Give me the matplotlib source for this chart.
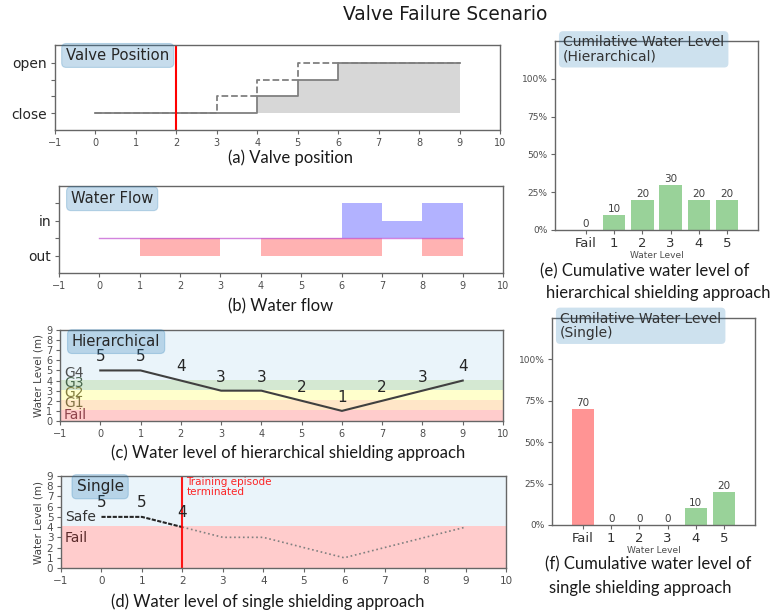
import matplotlib
matplotlib.use("Agg")
import matplotlib.pyplot as plt
import numpy as np

# ---------------- data ----------------
steps = [0, 1, 2, 3, 4, 5, 6, 7, 8, 9]
valve_actual = [0, 0, 0, 0, 1, 2, 3, 3, 3, 3]
valve_intended = [0, 0, 0, 1, 2, 3, 3, 3, 3, 3]
valve_labels = ["close", "", "", "open"]
failure_step = 2

flow_in = [0, 0, 0, 0, 0, 0, 2, 1, 2, 2]
flow_out = [0, 1, 1, 0, 1, 1, 1, 0, 1, 1]

level_hier = [5, 5, 4, 3, 3, 2, 1, 2, 3, 4]
level_single = [5, 5, 4, 3, 3, 2, 1, 2, 3, 4]

categories = ["Fail", "1", "2", "3", "4", "5"]
cum_hier = [0, 10, 20, 30, 20, 20]
cum_single = [70, 0, 0, 0, 10, 20]

# ---------------- style ----------------
plt.rcParams['font.family'] = ['DejaVu Sans']
SPINE = '0.4'
TICKC = '0.3'
BOXKW = dict(boxstyle='round,pad=0.3', facecolor='tab:blue', alpha=0.25, edgecolor='tab:blue', linewidth=0.8)
CAPFONT = ['Lato', 'DejaVu Sans']

fig = plt.figure(figsize=(7.76, 6.14), dpi=100)


def style_axes(ax, xsize=7, ysize=7):
    for s in ax.spines.values():
        s.set_color(SPINE)
        s.set_linewidth(1.0)
    ax.tick_params(axis='x', colors=SPINE, labelcolor=TICKC, labelsize=xsize, length=3, pad=2.5)
    ax.tick_params(axis='y', colors=SPINE, labelcolor=TICKC, labelsize=ysize, length=3, pad=2.5)


def px_axes(l, t, r, b):
    W, H = 776, 614
    return fig.add_axes([l / W, 1 - b / H, (r - l) / W, (b - t) / H])


# ---------- (a) valve position ----------
ax = px_axes(55, 45, 500, 130)
ax.fill_between(steps, 0, valve_actual, step='post', color='lightgray', alpha=0.9, linewidth=0)
ax.step(steps, valve_intended, where='post', color='gray', linestyle='--', linewidth=1.3)
ax.step(steps, valve_actual, where='post', color='gray', linewidth=1.3)
ax.axvline(failure_step, color='red', linewidth=1.5)
ax.set_xlim(-1, 10)
ax.set_ylim(-1, 4.05)
ax.set_xticks(range(-1, 11))
ax.set_yticks([0, 1, 2, 3])
ax.set_yticklabels(valve_labels)
style_axes(ax, xsize=7, ysize=10)
ax.tick_params(axis='y', labelcolor='0.15')
ax.text(0.025, 0.965, "Valve Position", transform=ax.transAxes, fontsize=10.7,
        va='top', ha='left', color='0.15', bbox=BOXKW)

# ---------- (b) water flow ----------
ax = px_axes(59, 186, 503, 273)
ax.fill_between(steps, 0, flow_in, step='post', color='blue', alpha=0.3, linewidth=0)
ax.fill_between(steps, 0, [-v for v in flow_out], step='post', color='red', alpha=0.3, linewidth=0)
ax.plot(steps, [0] * len(steps), color='#c050d0', alpha=0.7, linewidth=1)
ax.set_xlim(-1, 10)
ax.set_ylim(-2, 3)
ax.set_xticks(range(-1, 11))
ax.set_yticks([-1, 0, 1, 2])
ax.set_yticklabels(["out", "", "in", ""])
style_axes(ax, xsize=7, ysize=10)
ax.tick_params(axis='y', labelcolor='0.15')
ax.text(0.027, 0.94, "Water Flow", transform=ax.transAxes, fontsize=10.6,
        va='top', ha='left', color='0.15', bbox=BOXKW)

# ---------- (c) hierarchical water level ----------
ax = px_axes(60, 330, 503, 421)
bands = [(0, 1.1, '#ffcccc'), (1.1, 2.1, '#ffe6c8'),
         (2.1, 3.1, '#ffffcc'), (3.1, 4.1, '#d4e8d2'),
         (4.1, 9, '#eaf4fa')]
for lo, hi, c in bands:
    ax.axhspan(lo, hi, color=c, linewidth=0)
band_text = [(0.55, 'Fail', '#7a2a35'), (1.75, 'G1', '#6b5a2a'), (2.75, 'G2', '#6e6a25'),
             (3.75, 'G3', '#2f4f33'), (4.75, 'G4', '0.2')]
for y, s, c in band_text:
    ax.text(-0.9, y, s, fontsize=10, color=c, va='center', ha='left', alpha=0.85)
ax.plot(steps, level_hier, color='0.25', linewidth=1.5)
for x, v in zip(steps, level_hier):
    ax.text(x, v + 1.35, str(v), fontsize=11, ha='center', va='center', color='0.15')
ax.set_xlim(-1, 10)
ax.set_ylim(0, 9)
ax.set_xticks(range(-1, 11))
ax.set_yticks(range(0, 10))
style_axes(ax, xsize=7, ysize=7)
ax.set_ylabel("Water Level (m)", fontsize=7.5, color='0.25', labelpad=2)
ax.text(0.027, 0.955, "Hierarchical", transform=ax.transAxes, fontsize=10.6,
        va='top', ha='left', color='0.15', bbox=BOXKW)

# ---------- (d) single water level ----------
ax = px_axes(61, 476, 506, 568)
ax.axhspan(0, 4.1, color='#ffcccc', linewidth=0)
ax.axhspan(4.1, 9, color='#eaf4fa', linewidth=0)
ax.text(-0.9, 5.0, "Safe", fontsize=10, color='0.2', va='center', ha='left')
ax.text(-0.9, 2.9, "Fail", fontsize=10, color='#5a2a2a', va='center', ha='left')
ax.plot(steps[:failure_step + 1], level_single[:failure_step + 1], color='0.15',
        linewidth=1.5, linestyle=(0, (2, 0.7)))
ax.plot(steps[failure_step:], level_single[failure_step:], color='gray',
        linewidth=1.2, linestyle=':')
for x, v in zip(steps[:failure_step + 1], level_single[:failure_step + 1]):
    ax.text(x, v + 1.45, str(v), fontsize=11, ha='center', va='center', color='0.15')
ax.axvline(failure_step, color='red', linewidth=1.5, alpha=0.9)
ax.text(failure_step + 0.1, 8.9, "Training episode\nterminated", fontsize=7.5,
        color='red', alpha=0.85, va='top', ha='left', linespacing=1.0)
ax.set_xlim(-1, 10)
ax.set_ylim(0, 9)
ax.set_xticks(range(-1, 11))
ax.set_yticks(range(0, 10))
style_axes(ax, xsize=7.5, ysize=7.5)
ax.set_ylabel("Water Level (m)", fontsize=7.5, color='0.25', labelpad=2)
ax.text(0.035, 0.965, "Single", transform=ax.transAxes, fontsize=11,
        va='top', ha='left', color='0.15', bbox=BOXKW)


# ---------- (e)/(f) cumulative bar charts ----------
def bar_panel(ax, values, title):
    colors = [(1, 0, 0, 0.42) if c == "Fail" else (0.17, 0.63, 0.17, 0.48) for c in categories]
    x = np.arange(len(categories))
    frac = [v / 100 for v in values]
    ax.bar(x, frac, width=0.8, color=colors, linewidth=0)
    for xi, f, v in zip(x, frac, values):
        ax.text(xi, f + 0.005, str(v), ha='center', va='bottom', fontsize=7.5, color='0.25')
    ax.set_xlim(-1.1, 6.1)
    ax.set_ylim(0, 1.25)
    ax.set_xticks(x)
    ax.set_xticklabels(categories)
    ax.set_yticks([0, 0.25, 0.5, 0.75, 1.0])
    ax.set_yticklabels(["0%", "25%", "50%", "75%", "100%"])
    style_axes(ax, xsize=9.5, ysize=6.5)
    ax.tick_params(axis='x', labelcolor='0.2', pad=2)
    ax.set_xlabel("Water Level", fontsize=6.5, color='0.3', labelpad=1)
    ax.text(0.04, 1.03, title, transform=ax.transAxes, fontsize=10,
            va='top', ha='left', color='0.2', linespacing=1.0,
            bbox=dict(boxstyle='round,pad=0.3', facecolor='tab:blue', alpha=0.22,
                      edgecolor='none'))


ax = px_axes(555, 41, 758, 230)
bar_panel(ax, cum_hier, "Cumilative Water Level\n(Hierarchical)")
ax = px_axes(552, 318, 755, 525)
bar_panel(ax, cum_single, "Cumilative Water Level\n(Single)")

# ---------- captions & title ----------
W, H = 776, 614
fig.text(445 / W, 1 - 15 / H, "Valve Failure Scenario", fontsize=13.4, ha='center', va='center',
         color='0.1')
caps = [(291, 158, "(a) Valve position"), (281, 306, "(b) Water flow"),
        (288, 453, "(c) Water level of hierarchical shielding approach"),
        (268, 602, "(d) Water level of single shielding approach"),
        (645, 271, "(e) Cumulative water level of"),
        (658, 293, "hierarchical shielding approach"),
        (648, 564, "(f) Cumulative water level of"),
        (640, 588, "single shielding approach")]
for x, y, s in caps:
    fig.text(x / W, 1 - y / H, s, fontsize=12, ha='center', va='center',
             family=CAPFONT, color='0.1')

fig.savefig("out.png", dpi=100)
